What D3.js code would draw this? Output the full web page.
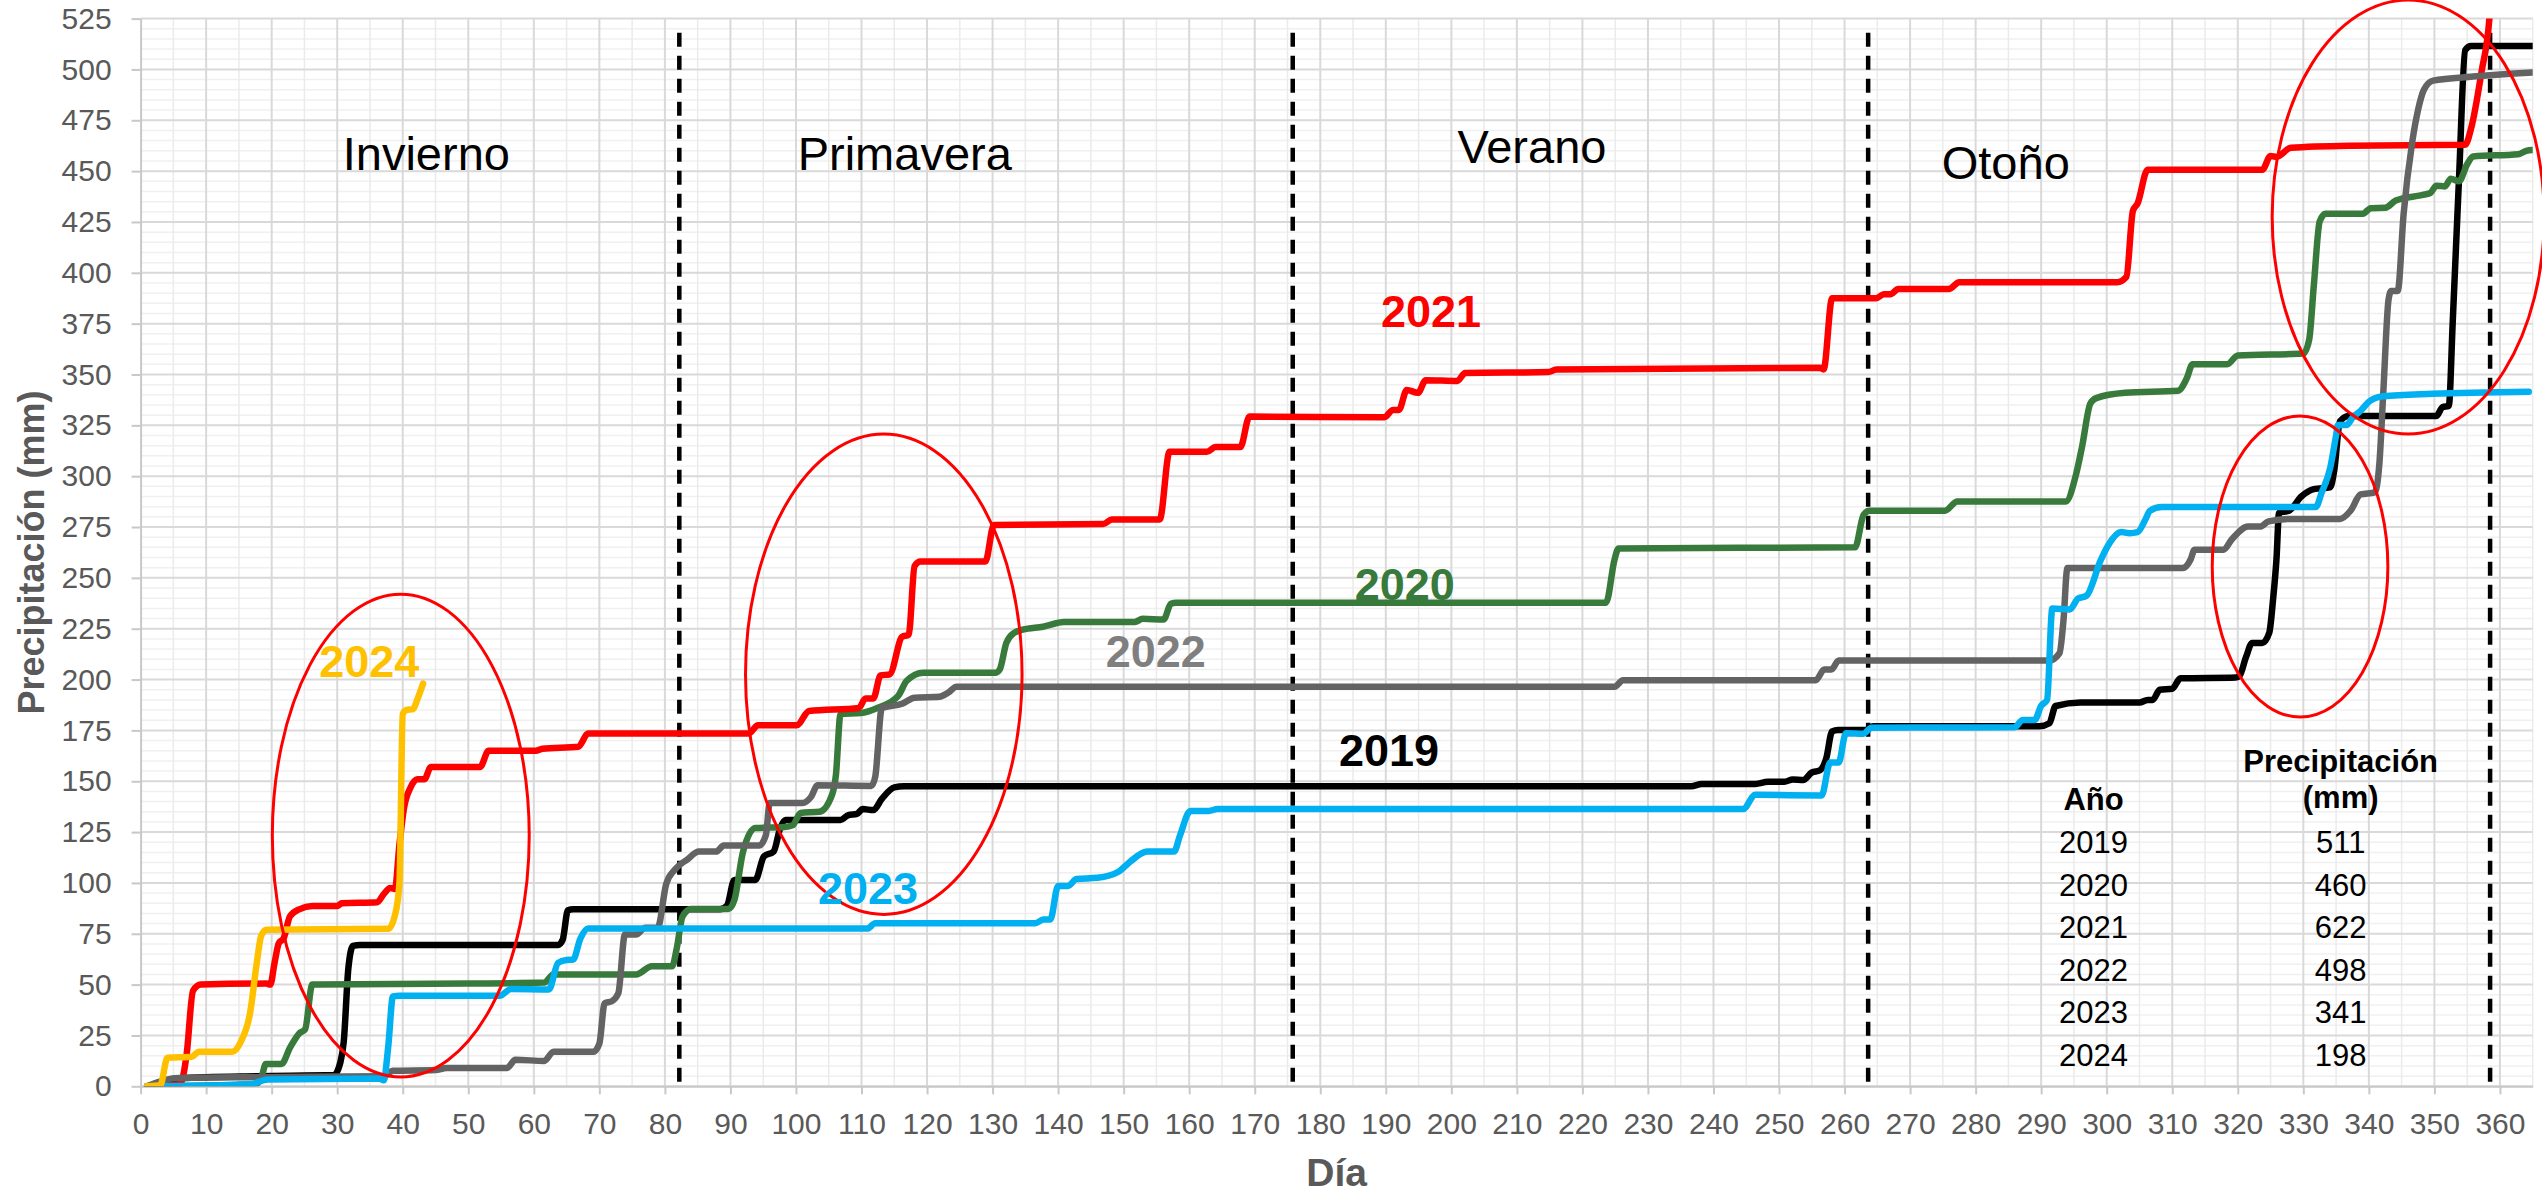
<!DOCTYPE html>
<html>
<head>
<meta charset="utf-8">
<script src="https://cdn.jsdelivr.net/npm/d3@7"></script>
<style>
  body { margin: 0; background: #fff; }
  svg { display: block; font-family: "Liberation Sans", Arial, sans-serif; }
</style>
</head>
<body>
<svg id="chart" width="2542" height="1195"></svg>
<script>
// cumulative rain, [day, mm]
const rain2019 = [[1,0],[4,2],[6,4],[18,5],[29.5,5.5],[30.5,12],[31,22],[31.7,58],[32.4,69],[33.5,69.5],[63.7,69.5],[64.4,72],[65.2,86.5],[66,87],[88.4,87],[89.5,89],[90.6,101.5],[93.8,101.5],[95.1,113],[96.6,115.5],[97.6,127],[98.4,131],[106.8,131],[108,133.4],[109.3,134],[110.2,136.3],[111.8,135.8],[113.1,141.3],[115,147],[116.5,147.5],[236.6,147.5],[238.2,148.7],[246.4,148.7],[248.3,149.7],[250.8,149.7],[252.1,150.9],[253.7,150.6],[255,154.3],[256.2,155.3],[257.2,161.2],[258.1,174.5],[259,175.2],[263.2,175.2],[264.4,177],[289.7,177],[291.25,178.5],[292.2,187],[296,188.7],[305,188.7],[306.25,190],[307,190],[308.1,195],[310,195.5],[311.25,200.6],[319.7,201],[320.3,202],[321.25,211],[322.2,218],[323.75,218],[324.8,223],[325.4,240],[325.9,259],[326.3,282],[327.8,283],[329.7,290],[331.6,293.6],[334.1,294.5],[334.7,302.4],[335.6,327],[336.9,329.6],[350.3,329.6],[351.25,334],[352.2,334.5],[352.8,376],[353.75,446],[354.7,509.5],[355.6,511.5],[365,511.5]];
const rain2020 = [[1,0],[17.5,1],[18.5,5],[19.1,11],[21.5,11],[22.8,19],[24.2,26],[25.1,28],[26.2,50],[27,50],[50,50.5],[61.6,51],[63,55],[75.6,55],[78,59],[81.1,59],[81.8,67.7],[82.7,83.6],[84,87.2],[89.7,87.2],[90.6,91.6],[91.9,115],[93.8,127],[97.9,127.4],[99.5,128.4],[100.7,134.4],[103.6,135],[105.5,143.3],[106.1,153.3],[106.8,183],[109.9,183.5],[112.4,186],[115.6,192],[116.9,199.4],[119.4,203.4],[130.5,203.4],[131.1,205],[132.1,218],[133.3,223],[134.6,224.5],[137.7,226],[140.9,228.3],[151.7,228.3],[152.9,229.9],[156.1,229.5],[157.2,237.3],[158,237.8],[223.6,237.8],[224.9,259],[225.5,264.5],[261.6,265],[262.9,281],[263.8,283],[275.3,283],[277.2,287.5],[293.75,287.5],[295.3,300.6],[296.25,314.7],[297.5,335.7],[298.4,338.4],[302.8,341],[310.9,342],[312.2,348],[313.1,355],[318.4,355.1],[320,359.4],[330,360.3],[330.9,367.3],[331.6,393.7],[332.5,425.3],[333.4,429],[339.1,429.1],[340.3,431.8],[342.5,432],[344.1,435.5],[348.4,438.4],[349.4,439.3],[350.3,442.8],[351.6,442.5],[352.5,446.3],[353.75,445],[355,453.4],[355.9,457.2],[362.8,458.3],[364,460],[365,460.4]];
const rain2021 = [[1,0],[6,1],[7,15],[8,47],[9.2,50],[19.2,50.5],[19.8,50],[20.4,60],[21.1,70.5],[21.8,72.6],[22.8,83.6],[24.2,87],[26.2,88.6],[30,88.6],[30.7,90],[36.1,90.5],[37.1,94.5],[38.1,97.5],[38.8,97],[39.5,119],[40.2,137],[41.2,147],[42.2,151],[43.3,151],[44.3,157],[51.8,157],[53.1,165],[60.3,165],[61.3,166],[66.8,167],[68.3,173.5],[92.8,173.5],[94.2,177.5],[100.1,177.5],[102,184.5],[109.6,186],[110.6,190.7],[111.8,190.7],[112.9,202],[114.3,202.6],[116.2,221],[117.2,222],[118.1,255.8],[119,258],[128.9,258],[130.2,276],[146.9,276.5],[148.2,278.7],[155.5,278.7],[157,312],[162.7,312],[164,314.3],[167.8,314.3],[169.2,329.3],[189.8,329],[191.1,332.6],[192,332.6],[193.2,342.4],[194.9,341],[196.1,347.2],[200.9,346.8],[202.1,350.7],[214.8,351.2],[216,352.4],[256.2,353.3],[256.8,352.5],[258.1,387.5],[264.8,387.5],[266,389.5],[267,389.5],[268.2,392],[275.9,392],[277.5,395.4],[301.6,395.4],[303,398],[304,430.5],[304.7,434],[306.25,450.7],[323.75,450.7],[325,457.5],[325.9,457],[328.1,461.5],[337.2,462.5],[354.7,463],[355.6,471],[357.2,499],[358.4,525.4],[359.2,570],[360,615],[365,622]];
const rain2022 = [[1,0],[3.7,3],[5.1,4],[18.7,4.5],[37.1,5],[38.5,7.6],[45,8],[46.7,9],[55.9,9],[57.2,13],[61.6,12.5],[63,17],[69.1,17],[70,21],[70.8,40.8],[71.9,41.8],[72.9,45.8],[73.9,74.6],[75.6,74.6],[77,78],[78.9,78],[80.2,99.5],[81.5,106.5],[83.4,111.5],[85.2,115.4],[87.8,115.4],[89,118.4],[94.4,118.4],[95.4,123.4],[96,139.3],[101,139.3],[102.3,142.3],[103.3,148],[111.5,147.7],[112.1,152.3],[113.1,186],[116.2,188.1],[118.1,191.1],[121.9,191.5],[123.2,193.5],[124.5,196.5],[224.9,196.5],[226.2,199.6],[255.6,199.6],[256.9,205],[258,205],[259.1,209.4],[291.25,209.4],[292.8,213],[293.4,229],[294,254.8],[311.6,254.8],[312.8,259],[313.4,263.8],[317.8,263.8],[319.1,269],[321.6,275.2],[323.4,275.2],[324.7,277.8],[327.8,279],[335.6,279],[337.2,283],[338.75,291],[340.9,292],[341.6,306],[342.2,341],[343,386.7],[343.4,391],[344.4,391],[345.3,428.8],[346.6,463.9],[347.5,480],[348.4,490],[349.8,494.5],[355.9,496.5],[362.2,498],[365,498.5]];
const rain2023 = [[1,0],[16.7,1],[19.4,3.4],[36.4,3.8],[37.1,3],[37.8,20],[38.5,44.2],[39.5,44.5],[54.8,44.5],[56.5,47.8],[62.3,47.6],[63.7,60.7],[65,62.1],[66,62.3],[67.1,72.6],[68.3,77.6],[110.9,77.6],[112.1,80.2],[136.5,80.2],[137.8,82],[138.8,82],[140,98.5],[141.5,98.5],[142.8,101.9],[146,102.5],[149.2,105.5],[151,110.5],[153.6,115.4],[157.7,115.4],[158.6,123.4],[160.2,135.4],[163,135.4],[164.3,136.3],[244.5,136.3],[246.4,143.3],[256.5,143],[257.8,159.2],[259.1,159.2],[260.2,173.6],[262.9,173.4],[264.1,176.3],[285.9,176.5],[287.2,180.1],[289,180.1],[290,187.1],[290.9,190],[291.7,234.9],[294.4,234.5],[295.6,239.8],[296.9,241.2],[299.1,258.8],[300.3,266.4],[302.2,272.5],[303.5,272],[304.7,272.5],[305.9,278.7],[306.6,283],[308.4,284.8],[331.9,284.8],[332.8,291.9],[334.1,304.1],[335,320],[335.3,325.2],[336.6,325.2],[337.5,328.7],[338.75,332.2],[340,336.6],[342.2,339.3],[349.7,340.5],[364.4,341.5]];
const rain2024 = [[1,0],[3,0.5],[4.1,14],[7.8,14.5],[8.9,17],[14,17],[15.3,22],[16.7,36],[17.7,60],[18.4,74],[19.2,77],[37.8,77.5],[38.8,84],[39.5,100],[40,183],[40.5,185],[41.6,185.5],[42.2,190],[43.1,198]];

const years = ["2019", "2020", "2021", "2022", "2023", "2024"];
const totals = [511, 460, 622, 498, 341, 198];
const colors = ["#000000", "#387a3b", "#ff0000", "#636363", "#00b0f0", "#ffc000"];
const labelColors = ["#000000", "#387a3b", "#ff0000", "#7f7f7f", "#00b0f0", "#ffc000"];
// year labels: [day, mm] of text anchor (middle, baseline)
const yearLabelAt = [[190.5, 157.5], [192.9, 239.1], [196.9, 373.3], [154.9, 206.2], [111, 89.6], [34.9, 201.3]];

const seasons = ["Invierno", "Primavera", "Verano", "Otoño"];
const seasonLabelAt = [[43.6, 450.5], [116.6, 450.5], [212.3, 454], [284.6, 446]];
const seasonBreaks = [82.2, 175.8, 263.6, 358.5];

// red highlight ellipses: [day, mm, rx days, ry mm]
const highlights = [[39.7, 123.3, 19.6, 118.7], [113.4, 202.6, 21.1, 118.1], [329.5, 255.6, 13.4, 74], [346, 427.4, 20.75, 106.7]];

const xTicks = d3.range(0, 361, 10);
const yTicks = d3.range(0, 526, 25);

const series = [rain2019, rain2020, rain2021, rain2022, rain2023, rain2024];

const W = 2542, H = 1195;
const m = { top: 18.6, right: 9.3, bottom: 108.7, left: 140.6 };
const svg = d3.select("#chart");

const x = d3.scaleLinear().domain([0, 365]).range([m.left, W - m.right]);
const y = d3.scaleLinear().domain([0, 525]).range([H - m.bottom, m.top]);

// grid
const grid = svg.append("g");
grid.selectAll(".hmin").data(d3.range(0, 526, 5).filter(v => v % 25)).join("line")
  .attr("x1", x(0)).attr("x2", x(365)).attr("y1", d => y(d)).attr("y2", d => y(d))
  .attr("stroke", "#f0f0f0").attr("stroke-width", 1.5);
grid.selectAll(".vmin").data(d3.range(5, 366, 10)).join("line")
  .attr("x1", d => x(d)).attr("x2", d => x(d)).attr("y1", y(0)).attr("y2", y(525))
  .attr("stroke", "#ebebeb").attr("stroke-width", 1.5);
grid.selectAll(".hmaj").data(yTicks).join("line")
  .attr("x1", x(0)).attr("x2", x(365)).attr("y1", d => y(d)).attr("y2", d => y(d))
  .attr("stroke", "#d9d9d9").attr("stroke-width", 2);
grid.selectAll(".vmaj").data(xTicks.slice(1)).join("line")
  .attr("x1", d => x(d)).attr("x2", d => x(d)).attr("y1", y(0)).attr("y2", y(525))
  .attr("stroke", "#d9d9d9").attr("stroke-width", 2);

// axes
const styleAxis = g => {
  g.select(".domain").attr("stroke", "#c8c8c8").attr("stroke-width", 2);
  g.selectAll("line").attr("stroke", "#c8c8c8").attr("stroke-width", 2);
  g.selectAll("text").attr("fill", "#595959").attr("font-size", 30)
    .attr("font-family", "'Liberation Sans', Arial, sans-serif");
};
svg.append("g").attr("transform", `translate(0,${y(0)})`)
  .call(d3.axisBottom(x).tickValues(xTicks).tickSize(8).tickPadding(18).tickSizeOuter(0))
  .call(styleAxis);
svg.append("g").attr("transform", `translate(${x(0)},0)`)
  .call(d3.axisLeft(y).tickValues(yTicks).tickSize(9).tickPadding(20).tickSizeOuter(0))
  .call(styleAxis);

svg.append("text").attr("transform", `translate(44,${(y(0) + y(525)) / 2}) rotate(-90)`)
  .attr("text-anchor", "middle").attr("font-weight", "bold").attr("font-size", 36)
  .attr("fill", "#595959").text("Precipitación (mm)");
svg.append("text").attr("x", (x(0) + x(365)) / 2).attr("y", 1186)
  .attr("text-anchor", "middle").attr("font-weight", "bold").attr("font-size", 39)
  .attr("fill", "#595959").text("Día");

// season dividers and names
svg.selectAll(".brk").data(seasonBreaks).join("line")
  .attr("x1", d => x(d)).attr("x2", d => x(d)).attr("y1", y(518)).attr("y2", y(1.5))
  .attr("stroke", "#000").attr("stroke-width", 4.5).attr("stroke-dasharray", "14 9");
svg.selectAll(".season").data(seasons).join("text")
  .attr("x", (d, i) => x(seasonLabelAt[i][0])).attr("y", (d, i) => y(seasonLabelAt[i][1]))
  .attr("text-anchor", "middle").attr("font-size", 47).attr("fill", "#000").text(d => d);

// lines
svg.append("clipPath").attr("id", "plot").append("rect")
  .attr("x", x(0)).attr("y", y(525)).attr("width", x(365) - x(0)).attr("height", y(0) - y(525));
const line = d3.line().x(d => x(d[0])).y(d => y(d[1])).curve(d3.curveMonotoneX);
svg.append("g").attr("clip-path", "url(#plot)")
  .selectAll("path").data(series).join("path")
  .attr("d", line).attr("fill", "none")
  .attr("stroke", (d, i) => colors[i]).attr("stroke-width", 6.5)
  .attr("stroke-linejoin", "round").attr("stroke-linecap", "round");

// highlight ellipses
svg.selectAll(".hl").data(highlights).join("ellipse")
  .attr("cx", d => x(d[0])).attr("cy", d => y(d[1]))
  .attr("rx", d => x(d[2]) - x(0)).attr("ry", d => y(0) - y(d[3]))
  .attr("fill", "none").attr("stroke", "#ff0000").attr("stroke-width", 3);

// year labels
svg.selectAll(".yl").data(years).join("text")
  .attr("x", (d, i) => x(yearLabelAt[i][0])).attr("y", (d, i) => y(yearLabelAt[i][1]))
  .attr("text-anchor", "middle").attr("font-weight", "bold").attr("font-size", 45)
  .attr("fill", (d, i) => labelColors[i]).text(d => d);

// totals table
const colYear = x(298), colVal = x(335.7);
const table = svg.append("g").attr("font-size", 31).attr("fill", "#000").attr("text-anchor", "middle");
table.append("text").attr("x", colVal).attr("y", 772).attr("font-weight", "bold").text("Precipitación");
table.append("text").attr("x", colVal).attr("y", 808).attr("font-weight", "bold").text("(mm)");
table.append("text").attr("x", colYear).attr("y", 810).attr("font-weight", "bold").text("Año");
table.selectAll(".ty").data(years).join("text")
  .attr("x", colYear).attr("y", (d, i) => 853 + i * 42.6).text(d => d);
table.selectAll(".tv").data(totals).join("text")
  .attr("x", colVal).attr("y", (d, i) => 853 + i * 42.6).text(d => d);
</script>
</body>
</html>
